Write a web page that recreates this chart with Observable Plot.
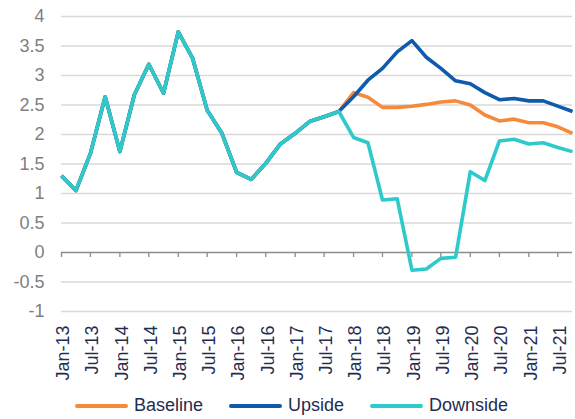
<!DOCTYPE html>
<html>
<head>
<meta charset="utf-8">
<script src="https://cdn.jsdelivr.net/npm/d3@7"></script>
<script src="https://cdn.jsdelivr.net/npm/@observablehq/plot@0.6"></script>
<style>
  html, body { margin: 0; padding: 0; background: #fff; }
  body { width: 575px; height: 419px; overflow: hidden; font-family: "Liberation Sans", Arial, sans-serif; }
  #legend { display: flex; align-items: center; height: 27px; padding-left: 75px; gap: 26px; font-size: 18px; color: #1f2d50; }
  .item { display: flex; align-items: center; gap: 6px; }
  .sw { width: 53px; height: 4px; border-radius: 2px; }
</style>
</head>
<body>
<div id="chart"></div>
<div id="legend"></div>
<script>
const quarters = ["Jan-13","Apr-13","Jul-13","Oct-13","Jan-14","Apr-14","Jul-14","Oct-14",
  "Jan-15","Apr-15","Jul-15","Oct-15","Jan-16","Apr-16","Jul-16","Oct-16",
  "Jan-17","Apr-17","Jul-17","Oct-17","Jan-18","Apr-18","Jul-18","Oct-18",
  "Jan-19","Apr-19","Jul-19","Oct-19","Jan-20","Apr-20","Jul-20","Oct-20",
  "Jan-21","Apr-21","Jul-21","Oct-21"];
const history = [1.30, 1.05, 1.68, 2.64, 1.71, 2.67, 3.19, 2.70, 3.74, 3.29, 2.41, 2.02,
  1.36, 1.24, 1.51, 1.84, 2.02, 2.22, 2.30, 2.39];
const baseline = [2.71, 2.63, 2.46, 2.46, 2.48, 2.51, 2.55, 2.57, 2.50, 2.33, 2.23, 2.26, 2.20, 2.20, 2.13, 2.02];
const upside   = [2.64, 2.92, 3.12, 3.40, 3.59, 3.31, 3.12, 2.91, 2.86, 2.71, 2.59, 2.61, 2.57, 2.57, 2.48, 2.39];
const downside = [1.95, 1.86, 0.89, 0.91, -0.30, -0.28, -0.10, -0.08, 1.37, 1.22, 1.89, 1.92, 1.84, 1.86, 1.78, 1.71];
const seriesNames = ["Baseline", "Upside", "Downside"];
const seriesColors = ["#F58B3A", "#0E5AAB", "#2ECACB"];
const xTickLabels = ["Jan-13","Jul-13","Jan-14","Jul-14","Jan-15","Jul-15","Jan-16","Jul-16","Jan-17",
  "Jul-17","Jan-18","Jul-18","Jan-19","Jul-19","Jan-20","Jul-20","Jan-21","Jul-21"];
const yTicks = [-1, -0.5, 0, 0.5, 1, 1.5, 2, 2.5, 3, 3.5, 4];

const parse = d3.utcParse("%b-%y");
const fmt = d3.utcFormat("%b-%y");
const forecasts = [baseline, upside, downside];
const data = [];
seriesNames.forEach((name, s) => {
  const vals = history.concat(forecasts[s]);
  vals.forEach((v, i) => data.push({series: name, date: parse(quarters[i]), value: v}));
});
const xTicks = xTickLabels.map(parse);

const chart = Plot.plot({
  width: 575,
  height: 392,
  marginLeft: 61,
  marginRight: 3,
  marginTop: 16,
  marginBottom: 81,
  style: {fontFamily: "Liberation Sans, Arial, sans-serif", background: "#fff"},
  x: {type: "utc", domain: [parse(quarters[0]), parse(quarters[quarters.length - 1])]},
  y: {domain: [-1, 4]},
  color: {domain: seriesNames, range: seriesColors},
  marks: [
    Plot.gridY(yTicks.filter(d => d !== 0), {stroke: "#d9d9d9", strokeOpacity: 1, strokeWidth: 1.3}),
    Plot.ruleY([0], {stroke: "#8c8c8c", strokeWidth: 1.3}),
    Plot.ruleX(xTicks, {x: d => d, y1: 0, y2: 0, insetBottom: -5, stroke: "#8c8c8c", strokeWidth: 1.3}),
    Plot.axisY({ticks: yTicks, tickSize: 0, tickPadding: 17, tickFormat: d => String(d), fontSize: 18, fill: "#7f7f7f", label: null}),
    Plot.axisX({ticks: xTicks, tickSize: 0, tickPadding: 14, tickRotate: -90, dx: 2, tickFormat: fmt, fontSize: 18, fill: "#1f2d50", label: null}),
    Plot.line(data, {x: "date", y: "value", z: "series", stroke: "series", strokeWidth: 3.6, strokeLinejoin: "round", strokeLinecap: "butt"})
  ]
});
document.getElementById("chart").appendChild(chart);

const legend = document.getElementById("legend");
seriesNames.forEach((name, i) => {
  const item = document.createElement("div");
  item.className = "item";
  const sw = document.createElement("span");
  sw.className = "sw";
  sw.style.background = seriesColors[i];
  const t = document.createElement("span");
  t.textContent = name;
  item.appendChild(sw);
  item.appendChild(t);
  legend.appendChild(item);
});
</script>
</body>
</html>
